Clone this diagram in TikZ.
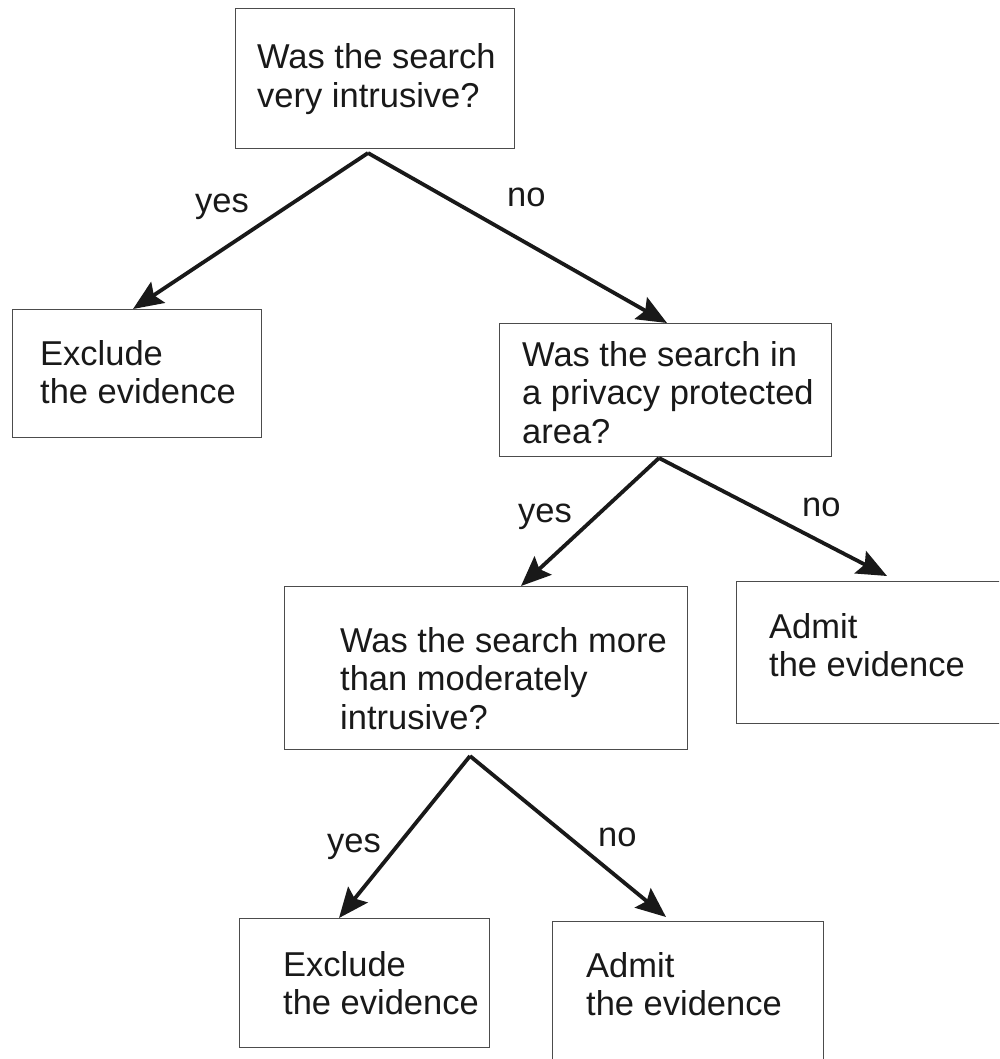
\documentclass[tikz,border=0pt]{standalone}
\usepackage{fontspec}
\setmainfont{Liberation Sans}
\usetikzlibrary{arrows.meta}
\tikzset{
  box/.style={draw=black!70, line width=1.3pt, rectangle, inner sep=0pt, anchor=north west},
  txt/.style={anchor=base west, inner sep=0pt, text=black!90, font=\fontsize{34.5}{38.7}\selectfont},
  lbl/.style={anchor=base west, inner sep=0pt, text=black!90, font=\fontsize{34.5}{38.7}\selectfont},
  arr/.style={draw=black!90, line width=3.8pt, -{Stealth[length=30pt, width=25pt, inset=5pt]}}
}
\newcommand{\lines}[1]{\begin{tabular}[t]{@{}l@{}}#1\end{tabular}}
\begin{document}
\begin{tikzpicture}[x=1pt,y=-1pt]
\useasboundingbox (0,0) rectangle (999,1059);
\clip (0,0) rectangle (999,1059);
\fill[white] (0,0) rectangle (999,1059);
% boxes
\node[box, minimum width=279pt, minimum height=140pt] (b1) at (235,8) {};
\node[box, minimum width=249pt, minimum height=128pt] (b2) at (12,309) {};
\node[box, minimum width=332pt, minimum height=133pt] (b3) at (499,323) {};
\node[box, minimum width=403pt, minimum height=163pt] (b4) at (284,586) {};
\node[box, minimum width=280pt, minimum height=142pt] (b5) at (736,581) {};
\node[box, minimum width=250pt, minimum height=129pt] (b6) at (239,918) {};
\node[box, minimum width=271pt, minimum height=160pt] (b7) at (552,921) {};
% texts
\node[txt] (t1) at (257,69) {\lines{Was the search\\very intrusive?}};
\node[txt] (t2) at (40,365) {\lines{Exclude\\the evidence}};
\node[txt] (t3) at (522,366) {\lines{Was the search in\\a privacy protected\\area?}};
\node[txt] (t4) at (340,652) {\lines{Was the search more\\than moderately\\intrusive?}};
\node[txt] (t5) at (769,638) {\lines{Admit\\the evidence}};
\node[txt] (t6) at (283,976) {\lines{Exclude\\the evidence}};
\node[txt] (t7) at (586,977) {\lines{Admit\\the evidence}};
% apex points
\coordinate (a1) at (368,153);
\coordinate (a3) at (659,458);
\coordinate (a4) at (470,756);
% arrows
\draw[arr] (a1) -- ([xshift=121pt]b2.north west);
\draw[arr] (a1) -- ([xshift=168pt]b3.north west);
\draw[arr] (a3) -- ([xshift=237pt]b4.north west);
\draw[arr] (a3) -- ([xshift=151pt,yshift=5pt]b5.north west);
\draw[arr] (a4) -- ([xshift=100pt]b6.north west);
\draw[arr] (a4) -- ([xshift=114pt,yshift=4pt]b7.north west);
% labels
\node[lbl] (l1) at (195,213) {yes};
\node[lbl] (l2) at (507,207) {no};
\node[lbl] (l3) at (518,522) {yes};
\node[lbl] (l4) at (802,516) {no};
\node[lbl] (l5) at (327,852) {yes};
\node[lbl] (l6) at (598,846) {no};
\end{tikzpicture}
\end{document}
